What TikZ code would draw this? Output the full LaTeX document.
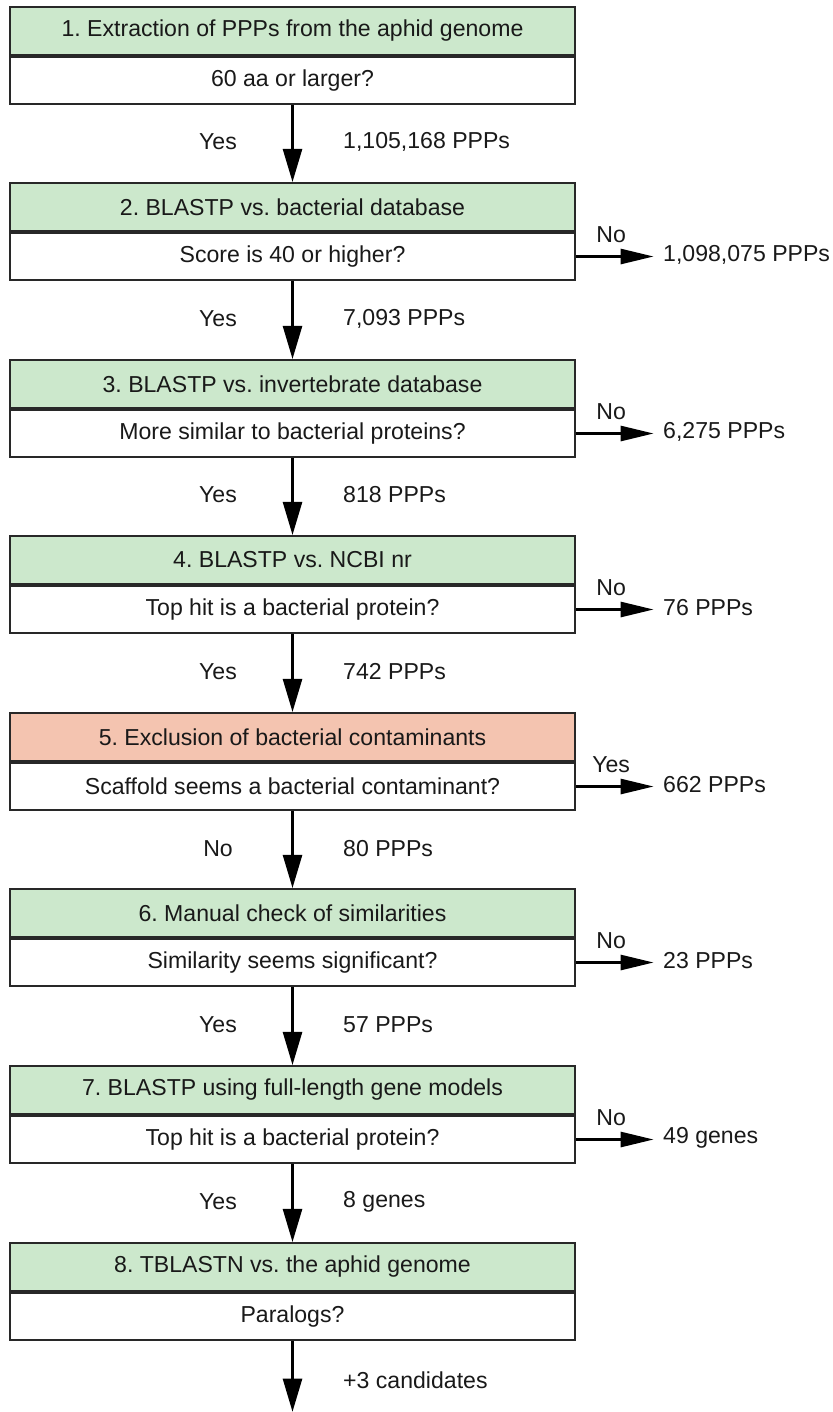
\documentclass[tikz,border=0pt]{standalone}
\usepackage{fontspec}
\setmainfont{Liberation Sans}
\usepackage{tikz}
\usetikzlibrary{arrows.meta, positioning}
\frenchspacing
\definecolor{stepgreen}{RGB}{204,232,204}
\definecolor{stepsalmon}{RGB}{244,196,176}
\definecolor{boxline}{RGB}{40,40,40}
\tikzstyle{title} = [rectangle, minimum width=169.5mm, minimum height=14.25mm, text centered, draw=boxline, line width=0.6mm, fill=stepgreen, inner sep=0pt]
\tikzstyle{titlered} = [title, fill=stepsalmon]
\tikzstyle{question} = [rectangle, minimum width=169.5mm, minimum height=14.25mm, text centered, draw=boxline, line width=0.6mm, fill=white, inner sep=0pt]
\tikzstyle{lbl} = [text=black!90, inner sep=0pt]
\tikzstyle{outcome} = [text=black!90, anchor=west, inner sep=0pt]
\tikzstyle{arrow} = [line width=1.1mm, -{Triangle[length=10mm, width=5.6mm]}]
\tikzstyle{sidearrow} = [line width=1.1mm, -{Triangle[length=10mm, width=4.4mm]}]

\begin{document}
\begin{tikzpicture}[x=0.3mm, y=-0.3mm, font=\fontsize{19.7}{24}\selectfont, text=black!90]
\useasboundingbox (0,0) rectangle (833,1412);

% Boxes: coloured title on top, question below
\node (t1) [title] at (292.5,31) {1. Extraction of PPPs from the aphid genome};
\node (q1) [question, below=0pt of t1] {60 aa or larger?};
\node (t2) [title] at (292.5,207) {2. BLASTP vs. bacterial database};
\node (q2) [question, below=0pt of t2] {Score is 40 or higher?};
\node (t3) [title] at (292.5,384) {3. BLASTP vs. invertebrate database};
\node (q3) [question, below=0pt of t3] {More similar to bacterial proteins?};
\node (t4) [title] at (292.5,560) {4. BLASTP vs. NCBI nr};
\node (q4) [question, below=0pt of t4] {Top hit is a bacterial protein?};
\node (t5) [titlered] at (292.5,737) {5. Exclusion of bacterial contaminants};
\node (q5) [question, below=0pt of t5] {Scaffold seems a bacterial contaminant?};
\node (t6) [title] at (292.5,913) {6. Manual check of similarities};
\node (q6) [question, below=0pt of t6] {Similarity seems significant?};
\node (t7) [title] at (292.5,1090) {7. BLASTP using full-length gene models};
\node (q7) [question, below=0pt of t7] {Top hit is a bacterial protein?};
\node (t8) [title] at (292.5,1267) {8. TBLASTN vs. the aphid genome};
\node (q8) [question, below=0pt of t8] {Paralogs?};
\coordinate (end) at (292.5,1412);

% Main flow downwards
\draw [arrow] (q1) -- (t2);
\draw [arrow] (q2) -- (t3);
\draw [arrow] (q3) -- (t4);
\draw [arrow] (q4) -- (t5);
\draw [arrow] (q5) -- (t6);
\draw [arrow] (q6) -- (t7);
\draw [arrow] (q7) -- (t8);
\draw [arrow] (q8) -- (end);

% Labels beside the main flow
\node [lbl] at (218,142) {Yes};
\node [lbl, anchor=west] at (343,142) {1,105,168 PPPs};
\node [lbl] at (218,319) {Yes};
\node [lbl, anchor=west] at (343,319) {7,093 PPPs};
\node [lbl] at (218,495) {Yes};
\node [lbl, anchor=west] at (343,495) {818 PPPs};
\node [lbl] at (218,672) {Yes};
\node [lbl, anchor=west] at (343,672) {742 PPPs};
\node [lbl] at (218,849) {No};
\node [lbl, anchor=west] at (343,849) {80 PPPs};
\node [lbl] at (218,1025) {Yes};
\node [lbl, anchor=west] at (343,1025) {57 PPPs};
\node [lbl] at (218,1202) {Yes};
\node [lbl, anchor=west] at (343,1202) {8 genes};
\node [lbl, anchor=west] at (343,1380) {+3 candidates};

% Rejected branches to the right
\node (r2) [outcome] at (663,255) {1,098,075 PPPs};
\node (r3) [outcome] at (663,432) {6,275 PPPs};
\node (r4) [outcome] at (663,608) {76 PPPs};
\node (r5) [outcome] at (663,785) {662 PPPs};
\node (r6) [outcome] at (663,961) {23 PPPs};
\node (r7) [outcome] at (663,1138) {49 genes};
\draw [sidearrow] (q2.east) -- ++(78,0) node [pos=0.45, above=10pt, lbl] {No};
\draw [sidearrow] (q3.east) -- ++(78,0) node [pos=0.45, above=10pt, lbl] {No};
\draw [sidearrow] (q4.east) -- ++(78,0) node [pos=0.45, above=10pt, lbl] {No};
\draw [sidearrow] (q5.east) -- ++(78,0) node [pos=0.45, above=10pt, lbl] {Yes};
\draw [sidearrow] (q6.east) -- ++(78,0) node [pos=0.45, above=10pt, lbl] {No};
\draw [sidearrow] (q7.east) -- ++(78,0) node [pos=0.45, above=10pt, lbl] {No};
\end{tikzpicture}
\end{document}
